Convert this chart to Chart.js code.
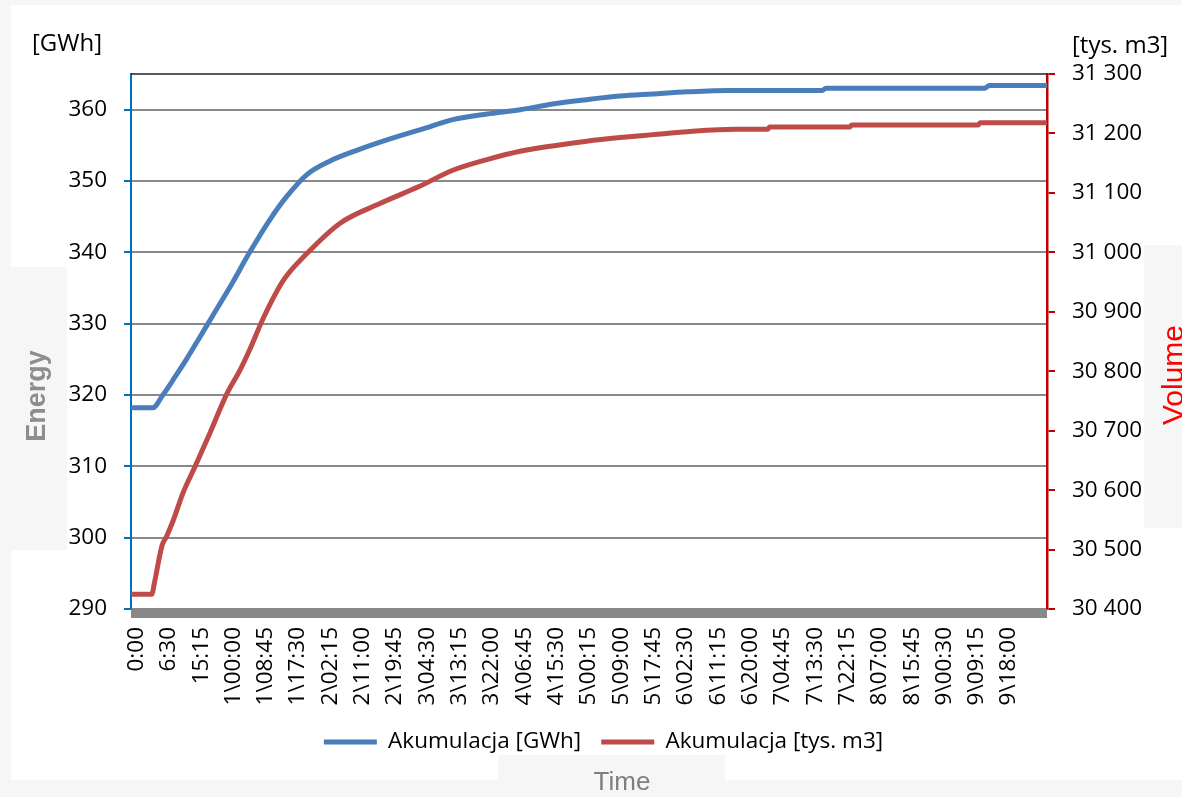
<!DOCTYPE html>
<html>
<head>
<meta charset="utf-8">
<script src="https://cdn.jsdelivr.net/npm/chart.js@4.4.1/dist/chart.umd.min.js"></script>
<style>
  html, body { margin: 0; padding: 0; background: #f6f6f6; }
  #wrap { width: 1182px; height: 797px; }
</style>
</head>
<body>
<div id="wrap"><canvas id="chart" width="1182" height="797"></canvas></div>
<script>
// x axis is a category axis of 15-min samples, every 35th one is labelled
const xLabels = ['0:00', '6:30', '15:15', '1\\00:00', '1\\08:45', '1\\17:30', '2\\02:15', '2\\11:00',
  '2\\19:45', '3\\04:30', '3\\13:15', '3\\22:00', '4\\06:45', '4\\15:30', '5\\00:15', '5\\09:00',
  '5\\17:45', '6\\02:30', '6\\11:15', '6\\20:00', '7\\04:45', '7\\13:30', '7\\22:15', '8\\07:00',
  '8\\15:45', '9\\00:30', '9\\09:15', '9\\18:00'];
const LABEL_STEP = 35;
const N_SAMPLES = 992;

// Akumulacja [GWh] (left axis), sample index -> value
const energyIdx = [0, 23, 34, 47, 60, 74, 87, 107, 128, 150, 168, 190, 215, 244, 280, 323, 348, 385,
  421, 456, 493, 529, 565, 602, 648, 748, 752, 924, 929, 991];
const energyGWh = [318.2, 318.2, 320.0, 322.5, 325.1, 328.1, 330.9, 335.2, 340.0, 344.6, 347.8, 350.9,
  352.8, 354.3, 355.9, 357.6, 358.6, 359.4, 360.0, 360.8, 361.4, 361.9, 362.2, 362.5, 362.7, 362.7,
  363.0, 363.0, 363.4, 363.4];

// Akumulacja [tys. m3] (right axis)
const volumeIdx = [0, 22, 25, 33, 38, 45, 56, 69, 85, 103, 118, 128, 143, 165, 190, 226, 269, 312,
  348, 385, 421, 456, 493, 529, 565, 602, 655, 689, 691, 778, 780, 917, 919, 991];
const volumeTys = [30425, 30425, 30445, 30506, 30522, 30548, 30596, 30640, 30696, 30761, 30803, 30836,
  30890, 30954, 30998, 31049, 31082, 31111, 31138, 31156, 31170, 31179, 31187, 31193, 31198, 31203,
  31207, 31207, 31211, 31211, 31214, 31214, 31218, 31218];

const leftTicks = [290, 300, 310, 320, 330, 340, 350, 360];
const rightTicks = [30400, 30500, 30600, 30700, 30800, 30900, 31000, 31100, 31200, 31300];

const PAD_L = 25, PAD_R = 0, PAD_B = 33.75;
const AREA = { left: 131, right: 1047, bottom: 609 };
const LEGEND_H = 52.5;
const FONT = "'Open Sans'";

const frame = {
  id: 'frame',
  beforeDraw(chart) {
    const ctx = chart.ctx;
    ctx.save();
    ctx.fillStyle = '#f6f6f6';
    ctx.fillRect(0, 0, 1182, 797);
    ctx.fillStyle = '#ffffff';
    ctx.fillRect(11, 5, 1171, 775);
    ctx.fillStyle = '#f6f6f6';
    ctx.fillRect(11, 267, 56, 283);     // Energy box
    ctx.fillRect(1144, 245, 38, 283);   // Volume box
    ctx.fillRect(498, 755, 227, 25);    // Time box
    ctx.restore();
  },
  afterDraw(chart) {
    const ctx = chart.ctx;
    const a = chart.chartArea;
    ctx.save();
    // top border and thick category axis bar
    ctx.strokeStyle = '#222';
    ctx.lineWidth = 1.5;
    ctx.beginPath();
    ctx.moveTo(a.left, a.top);
    ctx.lineTo(a.right, a.top);
    ctx.stroke();
    ctx.fillStyle = '#888888';
    ctx.fillRect(a.left, a.bottom, a.right - a.left, 9);

    ctx.fillStyle = '#000';
    ctx.font = "24px " + FONT;
    ctx.textBaseline = 'middle';
    ctx.textAlign = 'left';
    ctx.fillText('[GWh]', 32, 44);
    ctx.fillText('[tys. m3]', 1072, 46);

    ctx.fillStyle = '#7f7f7f';
    ctx.font = "26px 'Liberation Sans'";
    ctx.textAlign = 'center';
    ctx.fillText('Time', 622, 783);

    ctx.save();
    ctx.translate(38, 396);
    ctx.rotate(-Math.PI / 2);
    ctx.fillStyle = '#8d8d8d';
    ctx.font = "bold 27px 'Liberation Sans'";
    ctx.fillText('Energy', 0, 0);
    ctx.restore();

    ctx.save();
    ctx.translate(1183, 375);
    ctx.rotate(-Math.PI / 2);
    ctx.fillStyle = '#ff0000';
    ctx.font = "30px 'Liberation Sans'";
    ctx.textBaseline = 'alphabetic';
    ctx.fillText('Volume', 0, 0);
    ctx.restore();
    ctx.restore();
  }
};

new Chart(document.getElementById('chart'), {
  type: 'line',
  data: {
    datasets: [{
      label: 'Akumulacja [GWh]',
      data: energyIdx.map((x, i) => ({ x, y: energyGWh[i] })),
      yAxisID: 'yE',
      borderColor: '#4a7ebb',
      backgroundColor: '#4a7ebb',
      borderWidth: 5,
      borderCapStyle: 'round',
      pointRadius: 0,
      cubicInterpolationMode: 'monotone'
    }, {
      label: 'Akumulacja [tys. m3]',
      data: volumeIdx.map((x, i) => ({ x, y: volumeTys[i] })),
      yAxisID: 'yV',
      borderColor: '#be4b48',
      backgroundColor: '#be4b48',
      borderWidth: 5,
      borderCapStyle: 'round',
      pointRadius: 0,
      cubicInterpolationMode: 'monotone'
    }]
  },
  options: {
    responsive: false,
    devicePixelRatio: 1,
    animation: false,
    layout: { padding: { left: PAD_L, right: PAD_R, top: 74, bottom: PAD_B } },
    plugins: {
      tooltip: { enabled: false },
      legend: {
        position: 'bottom',
        labels: {
          usePointStyle: true,
          pointStyle: 'line',
          pointStyleWidth: 53,
          padding: 20,
          color: '#000',
          font: { family: FONT, size: 22.5 }
        }
      }
    },
    scales: {
      x: {
        type: 'linear',
        min: -0.5,
        max: N_SAMPLES - 0.5,
        afterBuildTicks: s => { s.ticks = xLabels.map((_, i) => ({ value: i * LABEL_STEP })); },
        afterFit: s => { s.height = 797 - PAD_B - LEGEND_H - AREA.bottom; },
        grid: { display: false, drawTicks: false },
        border: { display: false },
        ticks: {
          autoSkip: false,
          minRotation: 90,
          maxRotation: 90,
          padding: 18,
          labelOffset: 5,
          color: '#000',
          font: { family: FONT, size: 22.5 },
          callback: (v, i) => xLabels[i]
        }
      },
      yE: {
        position: 'left',
        min: 290,
        max: 365,
        afterBuildTicks: s => { s.ticks = leftTicks.map(v => ({ value: v })); },
        afterFit: s => { s.width = AREA.left - PAD_L; },
        grid: { color: '#898989', lineWidth: 2, tickColor: '#0070c0', tickLength: 7 },
        border: { color: '#0070c0', width: 2 },
        ticks: { padding: 17, color: '#000', font: { family: FONT, size: 22.5 } }
      },
      yV: {
        position: 'right',
        min: 30400,
        max: 31300,
        afterBuildTicks: s => { s.ticks = rightTicks.map(v => ({ value: v })); },
        afterFit: s => { s.width = 1182 - PAD_R - AREA.right; },
        grid: { drawOnChartArea: false, color: '#c00000', tickColor: '#c00000', tickLength: 8, lineWidth: 2 },
        border: { color: '#c00000', width: 2.5 },
        ticks: {
          padding: 17,
          color: '#000',
          font: { family: FONT, size: 22.5 },
          callback: v => String(v).slice(0, 2) + ' ' + String(v).slice(2)
        }
      }
    }
  },
  plugins: [frame]
});
</script>
</body>
</html>
